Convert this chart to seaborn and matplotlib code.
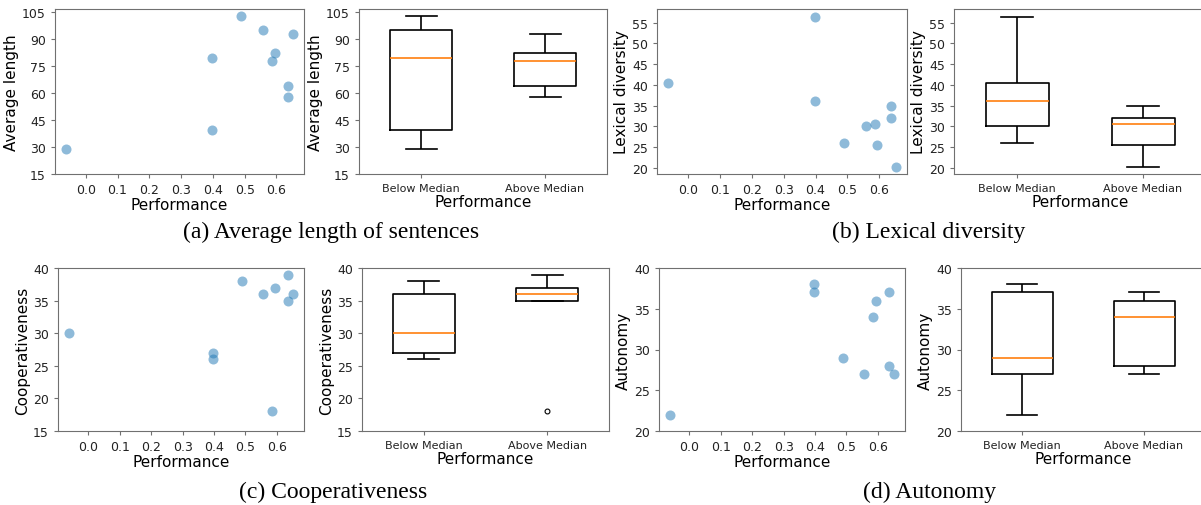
import numpy as np
import pandas as pd
import matplotlib
matplotlib.use("Agg")
import matplotlib.pyplot as plt
import seaborn as sns

# ---- data ----
performance = [-0.061, 0.397, 0.397, 0.490, 0.557, 0.586, 0.594, 0.636, 0.636, 0.651]
avg_length = [29, 79.5, 39.5, 103, 95, 78, 82, 64, 58, 93]
lexical_diversity = [40.5, 56.5, 36.2, 26, 30, 30.5, 25.4, 34.8, 31.9, 20.3]
cooperativeness = [30, 27, 26, 38, 36, 18, 37, 39, 35, 36]
autonomy = [22, 38, 37, 29, 27, 34, 36, 37, 28, 27]

group_names = ["Below Median", "Above Median"]
metric_labels = ["Average length", "Lexical diversity", "Cooperativeness", "Autonomy"]
captions = ["(a) Average length of sentences", "(b) Lexical diversity",
            "(c) Cooperativeness", "(d) Autonomy"]
yticks_list = [np.arange(15, 106, 15), np.arange(20, 56, 5),
               np.arange(15, 41, 5), np.arange(20, 41, 5)]
ylims = [(15, None), (None, None), (15, 40), (20, 40)]

plt.rcParams["axes.edgecolor"] = "#707070"
plt.rcParams["xtick.color"] = "#707070"
plt.rcParams["ytick.color"] = "#707070"
plt.rcParams["xtick.labelcolor"] = "#222222"
plt.rcParams["ytick.labelcolor"] = "#222222"
plt.rcParams["font.family"] = ["DejaVu Sans"]

W, H = 1201, 506
fig = plt.figure(figsize=(W / 100, H / 100), dpi=100)

def box_px(l, t, r, b):
    return [l / W, (H - b) / H, (r - l) / W, (b - t) / H]

# pixel boxes (left, top, right, bottom)
scatter_pos = [(55, 10, 304, 175), (657, 10, 907, 175),
               (58, 269, 304, 432), (659, 269, 905, 432)]
boxp_pos = [(359, 10, 607, 175), (954, 10, 1206, 175),
            (362, 269, 609, 432), (961, 269, 1205, 432)]
caption_pos = [(331, 232), (929, 232), (333, 492), (930, 492)]

metrics = [avg_length, lexical_diversity, cooperativeness, autonomy]
perf = np.array(performance)
med = np.median(perf)
groups = np.where(perf <= med, group_names[0], group_names[1])

for i, vals in enumerate(metrics):
    df = pd.DataFrame({"Performance": perf, "value": vals, "group": groups})
    # scatter
    ax = fig.add_axes(box_px(*scatter_pos[i]))
    sns.scatterplot(data=df, x="Performance", y="value", ax=ax, color="#1f77b4",
                    alpha=0.5, s=52, linewidth=0)
    ax.set_xticks(np.arange(0.0, 0.61, 0.1))
    ax.set_xticklabels([f"{t:.1f}" for t in np.arange(0.0, 0.61, 0.1)])
    ax.set_yticks(yticks_list[i])
    ax.set_ylim(*ylims[i])
    ax.set_xlabel("Performance", fontsize=11, labelpad=1)
    ax.set_ylabel(metric_labels[i], fontsize=11, labelpad=2)
    ax.tick_params(labelsize=9, length=3, width=0.8)

    # boxplot
    ax2 = fig.add_axes(box_px(*boxp_pos[i]))
    sns.boxplot(data=df, x="group", y="value", order=group_names, ax=ax2,
                width=0.5, fill=False, color="black", linewidth=1.2,
                whis=1.6, fliersize=3.5, capwidths=0.25,
                medianprops={"color": "#ff7f0e", "linewidth": 1.2},
                flierprops={"marker": "o", "markerfacecolor": "none",
                            "markeredgecolor": "black", "markeredgewidth": 0.8})
    ax2.set_xlim(-0.5, 1.5)
    ax2.set_yticks(yticks_list[i])
    ax2.set_ylim(*ylims[i])
    if ylims[i][1] is None:
        ax2.set_ylim(ax.get_ylim())
    ax2.set_xlabel("Performance", fontsize=11, labelpad=1)
    ax2.set_ylabel(metric_labels[i], fontsize=11, labelpad=2)
    ax2.tick_params(axis="y", labelsize=9, length=3, width=0.8)
    ax2.tick_params(axis="x", labelsize=8, length=3, width=0.8)

    cx, cy = caption_pos[i]
    fig.text(cx / W, 1 - cy / H, captions[i], ha="center", va="center",
             fontsize=17, family="Liberation Serif")

fig.savefig("out.png", dpi=100)
